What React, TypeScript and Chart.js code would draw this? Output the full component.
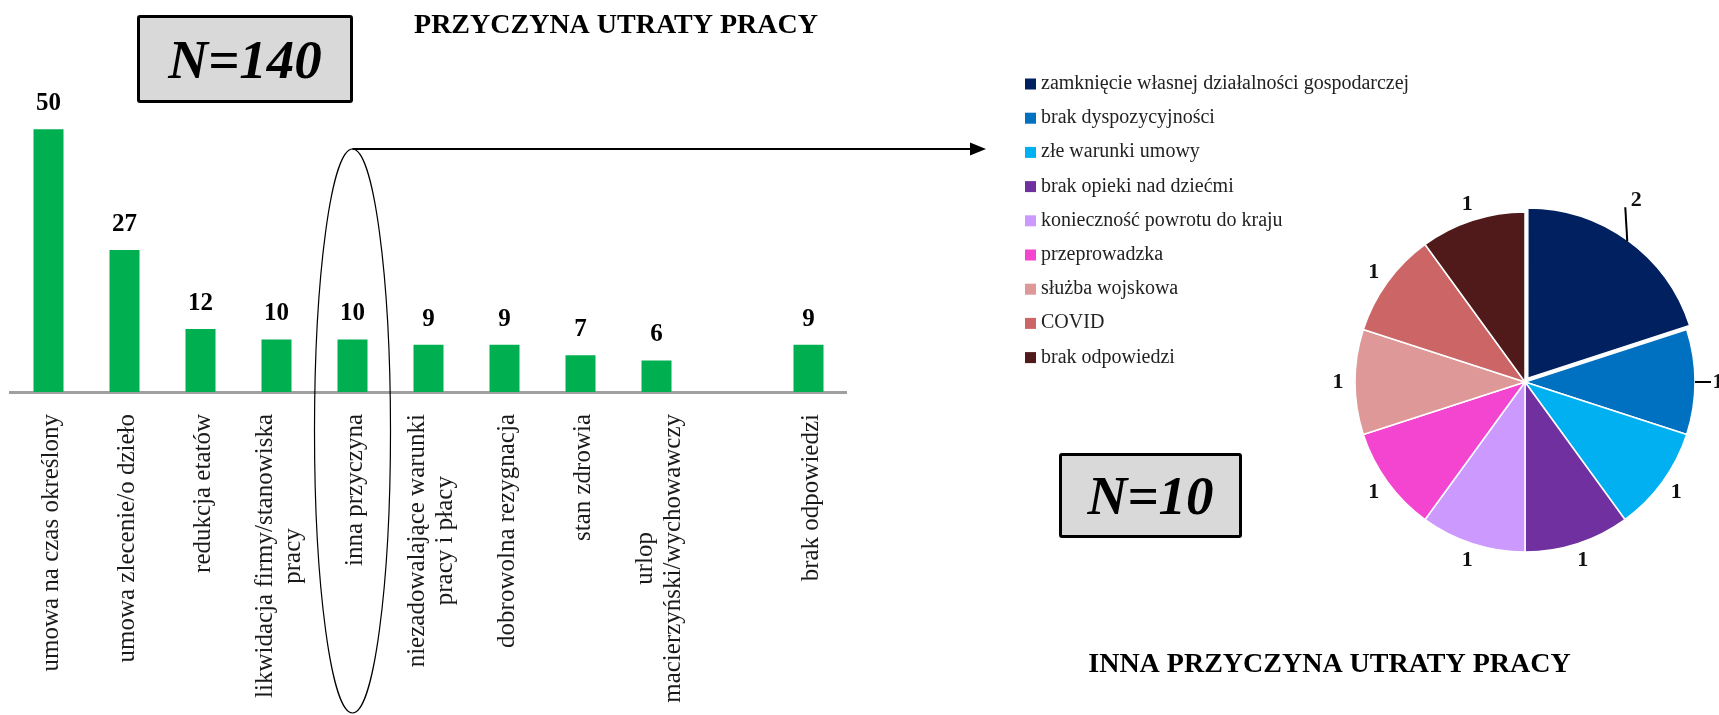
import React, { useEffect, useRef } from 'react';
import { Chart, registerables } from 'chart.js';

Chart.register(...registerables);

// ---------- Data: main bar chart ----------
const barTitle = 'PRZYCZYNA UTRATY PRACY';
const mainTotal = 'N=140';
const categories: string[][] = [
  ['umowa na czas określony'],
  ['umowa zlecenie/o dzieło'],
  ['redukcja etatów'],
  ['likwidacja firmy/stanowiska', 'pracy'],
  ['inna przyczyna'],
  ['niezadowalające warunki', 'pracy i płacy'],
  ['dobrowolna rezygnacja'],
  ['stan zdrowia'],
  ['urlop', 'macierzyński/wychowawczy'],
  [''],
  ['brak odpowiedzi'],
];
const counts: (number | null)[] = [50, 27, 12, 10, 10, 9, 9, 7, 6, null, 9];
const highlightIndex = 4;

// ---------- Data: "other reason" pie ----------
const pieTitle = 'INNA PRZYCZYNA UTRATY PRACY';
const otherTotal = 'N=10';
const otherLabels: string[] = [
  'zamknięcie własnej działalności gospodarczej',
  'brak dyspozycyjności',
  'złe warunki umowy',
  'brak opieki nad dziećmi',
  'konieczność powrotu do kraju',
  'przeprowadzka',
  'służba wojskowa',
  'COVID',
  'brak odpowiedzi',
];
const otherCounts: number[] = [2, 1, 1, 1, 1, 1, 1, 1, 1];
const otherColors: string[] = [
  '#002060', '#0070C0', '#00B0F0', '#7030A0', '#CC99FF',
  '#F345D0', '#DE9898', '#CC6666', '#501A1A',
];

const SERIF = '"Liberation Serif", "Times New Roman", serif';

const barDecor = {
  id: 'barDecor',
  afterDraw(chart: any) {
    const { ctx, chartArea } = chart;
    const xs = chart.scales.x;
    const meta = chart.getDatasetMeta(0);
    ctx.save();
    // value labels
    ctx.fillStyle = '#000';
    ctx.font = `bold 25px ${SERIF}`;
    ctx.textAlign = 'center';
    ctx.textBaseline = 'alphabetic';
    meta.data.forEach((bar: any, i: number) => {
      const v = counts[i];
      if (v == null) return;
      ctx.fillText(String(v), bar.x, bar.y - 19);
    });
    // rotated category labels, lines centred within the block
    ctx.font = `25px ${SERIF}`;
    ctx.fillStyle = '#1a1a1a';
    const top = chartArea.bottom + 22;
    const lh = 28;
    categories.forEach((lines, i) => {
      const x = xs.getPixelForValue(i);
      const w = Math.max(...lines.map((l) => ctx.measureText(l).width));
      ctx.save();
      ctx.translate(x, top + w / 2);
      ctx.rotate(-Math.PI / 2);
      lines.forEach((l, j) => {
        ctx.fillText(l, 0, (j - (lines.length - 1) / 2) * lh + 9);
      });
      ctx.restore();
    });
    // ellipse around highlighted category + arrow to pie
    const ex = xs.getPixelForValue(highlightIndex);
    ctx.strokeStyle = '#000';
    ctx.fillStyle = '#000';
    ctx.lineWidth = 1.2;
    ctx.beginPath();
    ctx.ellipse(ex, 431, 38, 282, 0, 0, Math.PI * 2);
    ctx.stroke();
    ctx.lineWidth = 2.2;
    ctx.beginPath();
    ctx.moveTo(ex, 149);
    ctx.lineTo(972, 149);
    ctx.stroke();
    ctx.beginPath();
    ctx.moveTo(986, 149);
    ctx.lineTo(970, 142.5);
    ctx.lineTo(970, 155.5);
    ctx.closePath();
    ctx.fill();
    // title
    ctx.font = `bold 28px ${SERIF}`;
    ctx.textAlign = 'center';
    ctx.fillText(barTitle, 616, 33);
    ctx.restore();
  },
};

const pieDecor = {
  id: 'pieDecor',
  afterDraw(chart: any) {
    const { ctx } = chart;
    const meta = chart.getDatasetMeta(0);
    ctx.save();
    // legend
    ctx.textAlign = 'left';
    ctx.textBaseline = 'alphabetic';
    ctx.font = `20px ${SERIF}`;
    otherLabels.forEach((lab, i) => {
      const cy = 84 + i * 34.2;
      ctx.fillStyle = otherColors[i];
      ctx.fillRect(25, cy - 5.5, 11, 11);
      ctx.fillStyle = '#222';
      ctx.fillText(lab, 41, cy + 5);
    });
    // data labels
    ctx.font = `bold 22px ${SERIF}`;
    ctx.fillStyle = '#111';
    ctx.strokeStyle = '#000';
    ctx.lineWidth = 2;
    ctx.textAlign = 'center';
    ctx.textBaseline = 'middle';
    meta.data.forEach((arc: any, i: number) => {
      const mid = (arc.startAngle + arc.endAngle) / 2;
      const r = arc.outerRadius;
      const cx = arc.x, cy = arc.y;
      const txt = String(otherCounts[i]);
      if (i === 0) {
        const sx = cx + Math.cos(mid) * (r + 4);
        const sy = cy + Math.sin(mid) * (r + 4);
        ctx.beginPath();
        ctx.moveTo(sx, sy);
        ctx.lineTo(sx - 2, sy - 34);
        ctx.stroke();
        ctx.fillText(txt, sx + 9, sy - 41);
      } else if (i === 1) {
        const sx = cx + Math.cos(mid) * r;
        const sy = cy + Math.sin(mid) * r;
        ctx.beginPath();
        ctx.moveTo(sx, sy);
        ctx.lineTo(sx + 16, sy);
        ctx.stroke();
        ctx.fillText(txt, sx + 23, sy);
      } else {
        const d = r + 17;
        ctx.fillText(txt, cx + Math.cos(mid) * d, cy + Math.sin(mid) * d);
      }
    });
    // title
    ctx.font = `bold 28px ${SERIF}`;
    ctx.fillStyle = '#000';
    ctx.textBaseline = 'alphabetic';
    ctx.fillText(pieTitle, 329.5, 672);
    ctx.restore();
  },
};

const boxStyle = (left: number, top: number, w: number, h: number, fs: number): React.CSSProperties => ({
  position: 'absolute',
  left,
  top,
  width: w,
  height: h,
  boxSizing: 'border-box',
  border: '3px solid #000',
  borderRadius: 3,
  background: '#D9D9D9',
  display: 'flex',
  alignItems: 'center',
  justifyContent: 'center',
  fontFamily: SERIF,
  fontStyle: 'italic',
  fontWeight: 'bold',
  fontSize: fs,
  lineHeight: 1,
  color: '#000',
});

export default function App() {
  const barRef = useRef<HTMLCanvasElement>(null);
  const pieRef = useRef<HTMLCanvasElement>(null);

  useEffect(() => {
    const bar = new Chart(barRef.current as HTMLCanvasElement, {
      type: 'bar',
      data: {
        labels: categories.map((c) => c.join(' ')),
        datasets: [
          {
            data: counts as any,
            backgroundColor: '#00B050',
            borderWidth: 0,
            barPercentage: 30 / 76,
            categoryPercentage: 1,
          },
        ],
      },
      options: {
        responsive: false,
        animation: false,
        layout: { padding: { left: 10.5, right: 153.5, top: 24, bottom: 0 } },
        plugins: { legend: { display: false }, tooltip: { enabled: false }, title: { display: false } },
        scales: {
          x: {
            grid: { display: false },
            border: { color: '#A0A0A0', width: 3 },
            ticks: { display: false },
            afterFit: (s: any) => {
              s.height = 323;
            },
          } as any,
          y: { display: false, min: 0, max: 70 },
        },
      },
      plugins: [barDecor],
    });

    const pie = new Chart(pieRef.current as HTMLCanvasElement, {
      type: 'pie',
      data: {
        labels: otherLabels,
        datasets: [
          {
            data: otherCounts,
            backgroundColor: otherColors,
            borderColor: '#ffffff',
            borderWidth: 1.5,
            offset: otherCounts.map((_, i) => (i === 0 ? 19 : 0)),
          },
        ],
      },
      options: {
        responsive: false,
        animation: false,
        radius: 170,
        layout: { padding: { left: 331, right: 0, top: 200, bottom: 151 } },
        plugins: { legend: { display: false }, tooltip: { enabled: false } },
      } as any,
      plugins: [pieDecor],
    });

    return () => {
      bar.destroy();
      pie.destroy();
    };
  }, []);

  return (
    <div
      style={{
        position: 'fixed',
        left: 0,
        top: 0,
        width: 1719,
        height: 715,
        background: '#fff',
        overflow: 'hidden',
      }}
    >
      <canvas
        ref={barRef}
        width={1000}
        height={715}
        style={{ position: 'absolute', left: 0, top: 0, width: 1000, height: 715 }}
      />
      <canvas
        ref={pieRef}
        width={719}
        height={715}
        style={{ position: 'absolute', left: 1000, top: 0, width: 719, height: 715 }}
      />
      <div style={boxStyle(137, 15, 216, 88, 55)}>{mainTotal}</div>
      <div style={boxStyle(1059, 453, 183, 85, 55)}>{otherTotal}</div>
    </div>
  );
}
